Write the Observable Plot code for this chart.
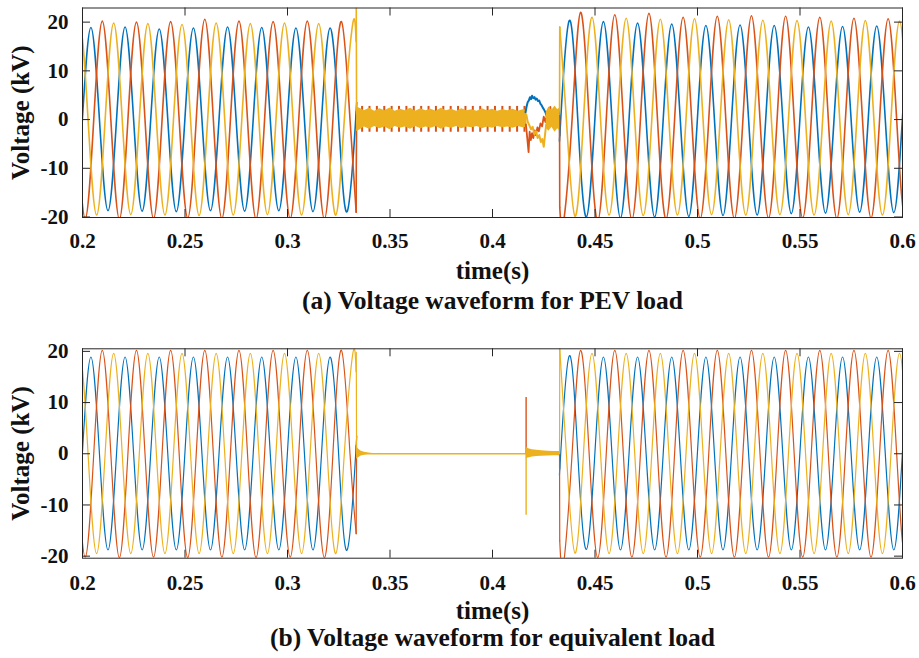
<!DOCTYPE html>
<html><head><meta charset="utf-8">
<script src="https://cdn.jsdelivr.net/npm/d3@7"></script>
<script src="https://cdn.jsdelivr.net/npm/@observablehq/plot@0.6"></script>
<style>
html,body{margin:0;padding:0;background:#fff;}
#chart{width:919px;height:658px;overflow:hidden;}
#chart svg{display:block;}
</style></head><body><div id="chart"></div>
<script>
// ---------- labels & ticks ----------
const phaseNames = ["Phase A", "Phase B", "Phase C"];
const phaseColors = ["#0072BD", "#D95319", "#EDB120"];
const xTicks = [0.2, 0.25, 0.3, 0.35, 0.4, 0.45, 0.5, 0.55, 0.6];
const xTickLabels = ["0.2", "0.25", "0.3", "0.35", "0.4", "0.45", "0.5", "0.55", "0.6"];
const yTicks = [-20, -10, 0, 10, 20];
const yTickLabels = ["-20", "-10", "0", "10", "20"];
const xLabel = "time(s)";
const yLabel = "Voltage (kV)";
const captions = ["(a) Voltage waveform for PEV load", "(b) Voltage waveform for equivalent load"];

// ---------- timing ----------
const period = 1 / 60;          // 6 cycles per 0.1 s
const firstCrestA = 0.2041;     // first crest of phase A
const phaseLag = [0, 1 / 3, 2 / 3]; // fraction of a period
const faultStart = 0.3335;
const faultEnd = 0.4328;
const postLeadT = 0.4327;
const preFirst = [-1, -2, -2];  // half-cycle index of first listed extreme (even = crest)
const postFirst = [28, 27, 27];

// ---------- panel (a): PEV load — half-cycle extreme magnitudes (kV) ----------
const aPreA = [18.8, 18.9, 18.7, 19.0, 18.8, 18.6, 18.9, 18.8, 18.7, 19.0, 18.8, 18.9, 18.7, 18.8, 18.9, 18.8, 18.9];
const aPreB = [20.1, 20.3, 20.2, 20.4, 20.0, 20.3, 20.1, 20.2, 20.6, 20.3, 20.2, 20.4, 20.1, 20.3, 20.2, 20.4, 20.1];
const aPreC = [19.7, 19.6, 19.8, 19.5, 19.7, 19.6, 19.5, 19.7, 19.8, 19.6, 19.7, 19.5, 19.8, 19.6, 19.7, 19.6, 19.8];
const aPostA = [20.3, 20.0, 20.1, 20.2, 19.8, 20.0, 19.6, 19.9, 19.3, 19.7, 19.4, 19.6, 19.3, 19.3, 19.0, 19.2, 19.1, 19.0, 19.2, 19.1, 19.1];
const aPostB = [21.0, 22.0, 20.8, 21.5, 20.5, 21.8, 20.4, 21.0, 20.3, 21.2, 20.3, 21.3, 20.2, 21.2, 20.2, 21.0, 20.3, 20.8, 20.2, 20.7, 20.2];
const aPostC = [19.8, 21.0, 19.6, 20.8, 19.7, 20.6, 19.6, 20.7, 19.5, 20.5, 19.6, 20.4, 19.5, 20.3, 19.6, 20.2, 19.5, 20.3, 19.6, 20.2, 19.5];
const aPreEnd = [1.6, -19.0, 16.0];
const aPostLead = [0.3, 0.8, 1.2];
const aPostStart = [-3.3, -18.0, 19.0];
const aOnsetT = [0.3335, 0.33355, 0.3337];
const aOnsetA = [1.6, 1.0, 0.3];
const aOnsetB = [-19.0, -10.0, -1.0];
const aOnsetC = [16.0, 22.9, 1.2];
// fault band (yellow envelope)
const aBandT = [0.3337, 0.3350, 0.3375, 0.3400, 0.3425, 0.3450, 0.3475, 0.3500, 0.3525, 0.3550, 0.3575, 0.3600, 0.3625, 0.3650, 0.3675, 0.3700, 0.3725, 0.3750, 0.3775, 0.3800, 0.3825, 0.3850, 0.3875, 0.3900, 0.3925, 0.3950, 0.3975, 0.4000, 0.4025, 0.4050, 0.4075, 0.4100, 0.4125, 0.4150, 0.4168];
const aBandHi = [2.6, 2.4, 1.8, 2.3, 1.7, 2.2, 1.8, 2.4, 1.7, 2.1, 1.8, 2.3, 1.7, 2.2, 1.8, 2.1, 1.7, 2.3, 1.8, 2.1, 1.7, 2.2, 1.8, 2.0, 1.7, 2.2, 1.8, 2.1, 1.7, 2.0, 1.8, 2.1, 1.7, 2.0, 1.9];
const aBandLo = [-2.5, -2.2, -1.5, -2.0, -1.4, -1.9, -1.5, -2.1, -1.4, -1.8, -1.5, -2.0, -1.4, -1.9, -1.5, -1.8, -1.4, -2.0, -1.5, -1.8, -1.4, -1.9, -1.5, -1.7, -1.4, -1.9, -1.5, -1.8, -1.4, -1.7, -1.5, -1.8, -1.4, -1.7, -1.6];
const aBand2T = [0.4262, 0.4275, 0.4290, 0.4305, 0.4318, 0.4327];
const aBand2Hi = [1.5, 2.6, 1.9, 2.8, 2.0, 2.4];
const aBand2Lo = [-1.8, -2.4, -1.6, -2.6, -1.9, -2.2];
// orange spikes peeking out of the band
const aSpikeT = [0.3364, 0.3400, 0.3436, 0.3472, 0.3508, 0.3544, 0.3580, 0.3616, 0.3652, 0.3688, 0.3724, 0.3760, 0.3796, 0.3832, 0.3868, 0.3904, 0.3940, 0.3976, 0.4012, 0.4048, 0.4084, 0.4120, 0.4156];
const aSpikeRange = [-2.6, 2.7];
// disturbance near 0.417–0.427 s
const aDistAT = [0.4161, 0.4167, 0.4172, 0.4177, 0.4183, 0.4188, 0.4193, 0.4199, 0.4205, 0.4210, 0.4216, 0.4222, 0.4228, 0.4234, 0.4240, 0.4246, 0.4252, 0.4258, 0.4264];
const aDistA = [1.5, 2.8, 3.6, 3.9, 4.6, 4.2, 4.9, 4.4, 4.6, 4.1, 4.3, 3.8, 3.9, 3.2, 2.9, 2.4, 2.0, 1.5, 0.8];
const aDistBT = [0.4163, 0.4170, 0.4176, 0.4181, 0.4187, 0.4193, 0.4199, 0.4206, 0.4212, 0.4219, 0.4226, 0.4234, 0.4242, 0.4250, 0.4258, 0.4266, 0.4274, 0.4282, 0.4290, 0.4300, 0.4310, 0.4320, 0.4327];
const aDistB = [-1.0, -4.0, -6.7, -2.5, -4.2, -2.8, -3.8, -2.2, -3.2, -1.6, -2.4, -0.8, -1.4, 0.6, -0.5, 1.0, -1.2, 2.6, -0.8, 1.8, -1.5, 2.0, -0.5];
const aDistCT = [0.4165, 0.4172, 0.4180, 0.4188, 0.4196, 0.4204, 0.4212, 0.4220, 0.4228, 0.4236, 0.4243, 0.4250, 0.4256, 0.4262];
const aDistC = [1.0, -0.5, -1.2, -2.0, -1.5, -3.0, -2.4, -3.8, -3.2, -4.6, -4.0, -5.6, -3.2, -1.0];

// ---------- panel (b): equivalent load ----------
const bPreA = [18.9, 18.9, 18.8, 18.9, 18.8, 18.9, 18.8, 18.9, 18.8, 18.9, 18.8, 18.9, 18.8, 18.9, 18.8, 18.9, 18.8];
const bPreB = [20.2, 20.2, 20.2, 20.3, 20.2, 20.2, 20.2, 20.3, 20.2, 20.2, 20.2, 20.3, 20.2, 20.2, 20.2, 20.3, 20.2];
const bPreC = [19.6, 19.5, 19.6, 19.5, 19.6, 19.5, 19.6, 19.5, 19.6, 19.5, 19.6, 19.5, 19.6, 19.5, 19.6, 19.5, 19.6];
const bPostA = [19.1, 18.7, 18.9, 18.8, 18.9, 18.8, 18.9, 18.8, 18.9, 18.8, 18.9, 18.8, 18.9, 18.8, 18.9, 18.8, 18.9, 18.8, 18.9, 18.8, 18.9];
const bPostB = [21.5, 20.2, 20.3, 20.2, 20.2, 20.2, 20.2, 20.2, 20.2, 20.2, 20.2, 20.2, 20.2, 20.2, 20.2, 20.2, 20.2, 20.2, 20.2, 20.2, 20.2];
const bPostC = [19.4, 19.6, 19.5, 19.6, 19.5, 19.6, 19.5, 19.6, 19.5, 19.6, 19.5, 19.6, 19.5, 19.6, 19.5, 19.6, 19.5, 19.6, 19.5, 19.6, 19.5];
const bPreEnd = [1.6, -15.6, 16.0];
const bPostLead = [0, 0, 0];
const bPostStart = [-3.0, -17.0, 20.5];
const bOnsetT = [0.3335, 0.33355, 0.3337];
const bOnsetA = [1.6, 0.8, 0];
const bOnsetB = [-15.6, -8.0, 0];
const bOnsetC = [16.0, 19.8, 0];
const bFlatT = [0.3337, 0.4164];
const bFlatV = [0, 0];
const bDecay1T = [0.3337, 0.3342, 0.3350, 0.3360, 0.3375, 0.3390, 0.3405, 0.3418];
const bDecay1Hi = [1.3, 1.1, 0.8, 0.5, 0.3, 0.18, 0.08, 0.03];
const bDecay1Lo = [-1.1, -0.9, -0.7, -0.45, -0.28, -0.15, -0.07, -0.03];
const bSpikeT = [0.4164];
const bSpikeB = [0, 11.0];
const bSpikeC = [0, -12.0];
const bDecay2T = [0.4165, 0.4170, 0.4180, 0.4195, 0.4215, 0.4240, 0.4270, 0.4300, 0.4327];
const bDecay2Hi = [1.2, 1.1, 0.95, 0.8, 0.68, 0.58, 0.5, 0.46, 0.45];
const bDecay2Lo = [-1.0, -0.9, -0.8, -0.65, -0.55, -0.48, -0.42, -0.4, -0.4];

// ---------- helpers ----------
function extremaPoints(first, mags, lag) {
  const tp = firstCrestA + lag * period;
  const pts = [];
  mags.forEach((m, i) => {
    const j = first + i;
    const t = tp + j * period / 2;
    const s = (((j % 2) + 2) % 2 === 0) ? 1 : -1;
    pts.push({t: t - period / 4, v: 0});
    pts.push({t, v: s * m});
  });
  pts.push({t: pts[pts.length - 1].t + period / 4, v: 0});
  return pts;
}
function buildWaves(pre, preEnd, post, postStart) {
  const rows = [];
  phaseNames.forEach((ph, k) => {
    extremaPoints(preFirst[k], pre[k], phaseLag[k]).filter(p => p.t < faultStart)
      .forEach(p => rows.push({...p, phase: ph, seg: ph + "-pre"}));
    rows.push({t: faultStart, v: preEnd[k], phase: ph, seg: ph + "-pre"});
    rows.push({t: faultEnd, v: postStart[k], phase: ph, seg: ph + "-post"});
    extremaPoints(postFirst[k], post[k], phaseLag[k]).filter(p => p.t > faultEnd)
      .forEach(p => rows.push({...p, phase: ph, seg: ph + "-post"}));
  });
  return rows;
}
function buildJumps(onsetT, onset, lead, start) {
  const rows = [];
  phaseNames.forEach((ph, k) => {
    onsetT.forEach((t, i) => rows.push({t, v: onset[k][i], phase: ph, seg: ph + "-on"}));
    rows.push({t: postLeadT, v: lead[k], phase: ph, seg: ph + "-off"});
    rows.push({t: faultEnd, v: start[k], phase: ph, seg: ph + "-off"});
  });
  return rows;
}
const zipRows = (T, V, ph) => T.map((t, i) => ({t, v: V[i], phase: ph}));
const bandRows = (T, H, L) => T.map((t, i) => ({t, hi: H[i], lo: L[i]}));

const FRAME = "#262626";
const FONT = "'Liberation Serif', 'Times New Roman', serif";

function panel(o) {
  const W = 919, ml = 82, mr = 17;
  const fw = W - ml - mr, fh = o.height - o.mt - o.mb;
  return Plot.plot({
    width: W, height: o.height,
    marginLeft: ml, marginRight: mr, marginTop: o.mt, marginBottom: o.mb,
    x: {domain: [0.2, 0.6], label: null},
    y: {domain: o.yDomain, label: null},
    color: {domain: phaseNames, range: phaseColors},
    style: {fontFamily: FONT, fontWeight: "bold", fontSize: "21px", color: "#111", background: "#fff", overflow: "visible"},
    marks: [
      ...o.under,
      Plot.line(o.waves, {x: "t", y: "v", z: "seg", stroke: "phase", curve: "natural", strokeWidth: o.sw, clip: true}),
      Plot.line(o.jumps, {x: "t", y: "v", z: "seg", stroke: "phase", strokeWidth: o.sw, clip: true}),
      ...o.over,
      Plot.tickX(xTicks, {x: d => d, insetTop: fh - 8, stroke: FRAME}),
      Plot.tickX(xTicks, {x: d => d, insetBottom: fh - 8, stroke: FRAME}),
      Plot.tickY(yTicks, {y: d => d, insetRight: fw - 8, stroke: FRAME}),
      Plot.tickY(yTicks, {y: d => d, insetLeft: fw - 8, stroke: FRAME}),
      Plot.frame({stroke: FRAME, strokeWidth: 1}),
      Plot.axisX({ticks: xTicks, tickSize: 0, tickPadding: o.xPad, label: null,
        tickFormat: d => xTickLabels[xTicks.indexOf(d)], fontSize: 21}),
      Plot.axisY({ticks: yTicks, tickSize: 0, tickPadding: 14, label: null,
        tickFormat: d => yTickLabels[yTicks.indexOf(d)], fontSize: 21}),
      Plot.text([yLabel], {text: d => d, frameAnchor: "left", textAnchor: "middle", lineAnchor: "middle",
        rotate: -90, dx: -62, fontSize: 25, fontWeight: "bold"}),
      Plot.text([xLabel], {text: d => d, frameAnchor: "bottom", dy: o.xLabDy, lineAnchor: "bottom", fontSize: 25, fontWeight: "bold"}),
      Plot.text([o.caption], {text: d => d, frameAnchor: "bottom", dy: o.capDy, lineAnchor: "bottom", fontSize: 25.5, fontWeight: "bold"})
    ]
  });
}

const Y = phaseColors[2], O = phaseColors[1], B = phaseColors[0];

const chartA = panel({
  height: 337, mt: 7.5, mb: 120, yDomain: [-20.1, 22.9], sw: 1.6,
  xPad: 16, xLabDy: 61, capDy: 91, caption: captions[0],
  waves: buildWaves([aPreA, aPreB, aPreC], aPreEnd, [aPostA, aPostB, aPostC], aPostStart),
  jumps: buildJumps(aOnsetT, [aOnsetA, aOnsetB, aOnsetC], aPostLead, aPostStart),
  under: [
    Plot.ruleX(aSpikeT, {x: d => d, y1: aSpikeRange[0], y2: aSpikeRange[1], stroke: O, strokeWidth: 2})
  ],
  over: [
    Plot.areaY(bandRows(aBandT, aBandHi, aBandLo), {x: "t", y1: "lo", y2: "hi", fill: Y}),
    Plot.line(zipRows(aDistAT, aDistA, phaseNames[0]), {x: "t", y: "v", stroke: B, strokeWidth: 2}),
    Plot.line(zipRows(aDistBT, aDistB, phaseNames[1]), {x: "t", y: "v", stroke: O, strokeWidth: 1.8}),
    Plot.areaY(bandRows(aBand2T, aBand2Hi, aBand2Lo), {x: "t", y1: "lo", y2: "hi", fill: Y}),
    Plot.line(zipRows(aDistCT, aDistC, phaseNames[2]), {x: "t", y: "v", stroke: Y, strokeWidth: 2})
  ]
});

const chartB = panel({
  height: 321, mt: 11.3, mb: 100.3, yDomain: [-20.4, 20.5], sw: 1.2,
  xPad: 16.5, xLabDy: 60.3, capDy: 87.3, caption: captions[1],
  waves: buildWaves([bPreA, bPreB, bPreC], bPreEnd, [bPostA, bPostB, bPostC], bPostStart),
  jumps: buildJumps(bOnsetT, [bOnsetA, bOnsetB, bOnsetC], bPostLead, bPostStart),
  under: [],
  over: [
    Plot.line(zipRows(bFlatT, bFlatV, phaseNames[2]), {x: "t", y: "v", stroke: Y, strokeWidth: 1.4}),
    Plot.areaY(bandRows(bDecay1T, bDecay1Hi, bDecay1Lo), {x: "t", y1: "lo", y2: "hi", fill: Y}),
    Plot.ruleX(bSpikeT, {x: d => d, y1: bSpikeB[0], y2: bSpikeB[1], stroke: O, strokeWidth: 1.4}),
    Plot.ruleX(bSpikeT, {x: d => d, y1: bSpikeC[0], y2: bSpikeC[1], stroke: Y, strokeWidth: 1.4}),
    Plot.areaY(bandRows(bDecay2T, bDecay2Hi, bDecay2Lo), {x: "t", y1: "lo", y2: "hi", fill: Y})
  ]
});

document.getElementById("chart").append(chartA, chartB);
</script></body></html>
